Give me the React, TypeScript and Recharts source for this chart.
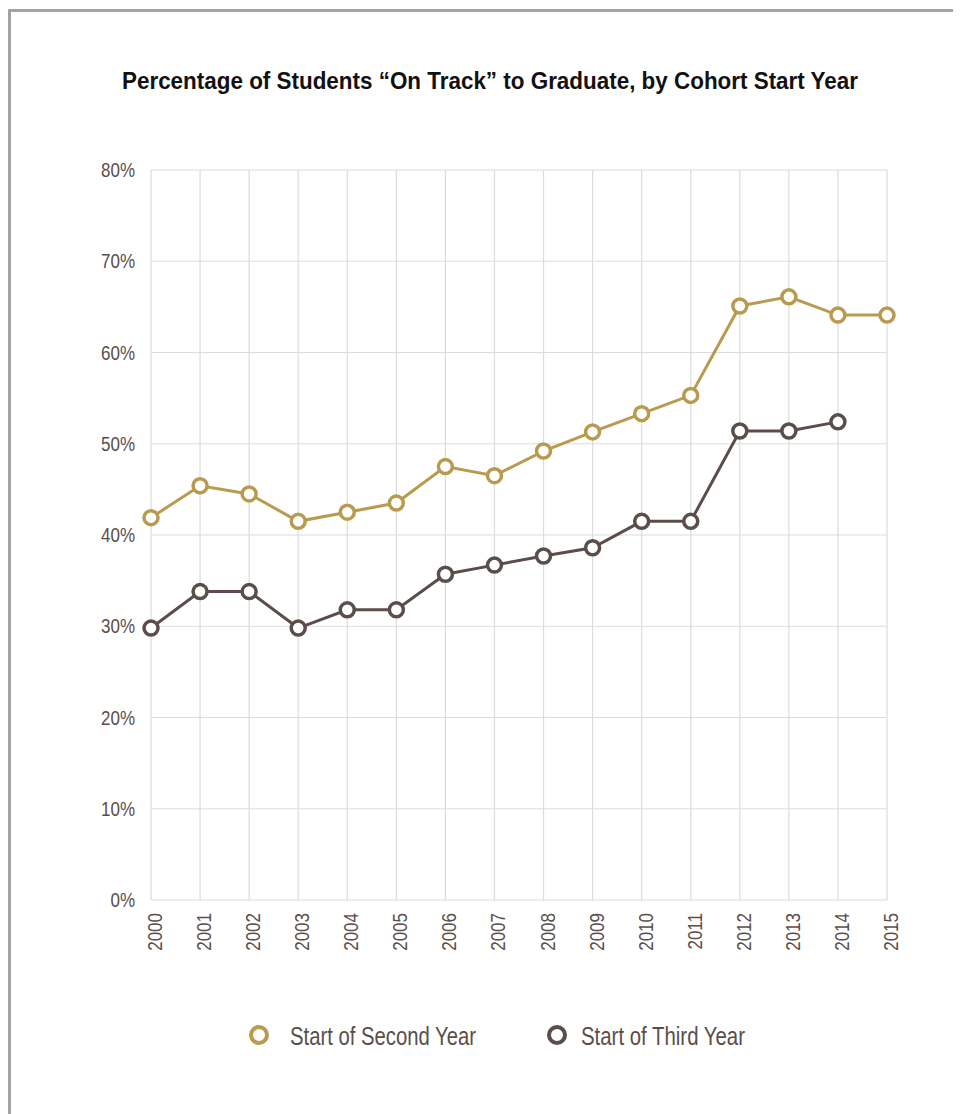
import { LineChart, Line, XAxis, YAxis, CartesianGrid } from 'recharts';

const years = ['2000', '2001', '2002', '2003', '2004', '2005', '2006', '2007', '2008', '2009', '2010', '2011', '2012', '2013', '2014', '2015'];
const secondYear = [41.9, 45.4, 44.5, 41.5, 42.5, 43.5, 47.5, 46.5, 49.2, 51.3, 53.3, 55.3, 65.1, 66.1, 64.1, 64.1];
const thirdYear = [29.8, 33.8, 33.8, 29.8, 31.8, 31.8, 35.7, 36.7, 37.7, 38.6, 41.5, 41.5, 51.4, 51.4, 52.4, null];
const yTicks = [0, 10, 20, 30, 40, 50, 60, 70, 80];
const seriesNames = ['Start of Second Year', 'Start of Third Year'];
const title = 'Percentage of Students “On Track” to Graduate, by Cohort Start Year';

const GOLD = '#b89b4f';
const BROWN = '#5b4e4a';
const FONT = '"Liberation Sans", Arial, sans-serif';
const SQUEEZE = 0.81;

const data = years.map((y, i) => ({ year: y, second: secondYear[i], third: thirdYear[i] }));

function YearTick({ x, y, payload }: any) {
  return (
    <text
      transform={`translate(${x + 11}, ${y + 7}) rotate(-90) scale(${SQUEEZE}, 1)`}
      textAnchor="end"
      fill={BROWN}
      fontSize={21}
      fontFamily={FONT}
    >
      {payload.value}
    </text>
  );
}

function PctTick({ x, y, payload }: any) {
  return (
    <text
      transform={`translate(${x}, ${y + 7}) scale(${SQUEEZE}, 1)`}
      textAnchor="end"
      fill={BROWN}
      fontSize={21}
      fontFamily={FONT}
    >
      {`${payload.value}%`}
    </text>
  );
}

function ChartLegend() {
  const items = [
    { label: seriesNames[0], color: GOLD, cx: 251, tx: 282, w: 186 },
    { label: seriesNames[1], color: BROWN, cx: 549, tx: 573, w: 164 },
  ];
  return (
    <svg width={900} height={50} style={{ position: 'absolute', left: -3, top: 996 }}>
      {items.map(it => (
        <g key={it.label}>
          <circle cx={it.cx} cy={27} r={8} fill="#fff" stroke={it.color} strokeWidth={4} />
          <text
            x={it.tx}
            y={37}
            textLength={it.w}
            lengthAdjust="spacingAndGlyphs"
            fontSize={26}
            fontFamily={FONT}
            fill={BROWN}
          >
            {it.label}
          </text>
        </g>
      ))}
    </svg>
  );
}

export default function App() {
  return (
    <div
      style={{
        position: 'relative',
        width: 953,
        height: 1110,
        borderLeft: '3px solid #a3a3a3',
        borderTop: '3px solid #a3a3a3',
        boxSizing: 'border-box',
        marginTop: 1,
        background: '#fff',
      }}
    >
      <svg width={920} height={70} style={{ position: 'absolute', left: -3, top: 35 }}>
        <text
          x={114}
          y={42}
          textLength={736}
          lengthAdjust="spacingAndGlyphs"
          fontSize={24}
          fontWeight="bold"
          fontFamily={FONT}
          fill="#111"
        >
          {title}
        </text>
      </svg>
      <div style={{ position: 'absolute', left: -3, top: -3 }}>
        <LineChart
          width={945}
          height={1100}
          data={data}
          margin={{ top: 161, right: 66, bottom: 0, left: 0 }}
        >
          <CartesianGrid stroke="#dcdcdc" strokeWidth={1.2} />
          <XAxis
            dataKey="year"
            axisLine={false}
            tickLine={false}
            interval={0}
            tick={<YearTick />}
            tickMargin={0}
            height={209}
          />
          <YAxis
            domain={[0, 80]}
            ticks={yTicks}
            axisLine={false}
            tickLine={false}
            width={143}
            tick={<PctTick />}
            tickMargin={10}
          />
          <Line
            dataKey="second"
            name={seriesNames[0]}
            stroke={GOLD}
            strokeWidth={3}
            dot={{ r: 7, fill: '#fff', stroke: GOLD, strokeWidth: 3.5 }}
            activeDot={false}
            isAnimationActive={false}
          />
          <Line
            dataKey="third"
            name={seriesNames[1]}
            stroke={BROWN}
            strokeWidth={3}
            dot={{ r: 7, fill: '#fff', stroke: BROWN, strokeWidth: 3.5 }}
            activeDot={false}
            isAnimationActive={false}
          />
        </LineChart>
      </div>
      <ChartLegend />
    </div>
  );
}
